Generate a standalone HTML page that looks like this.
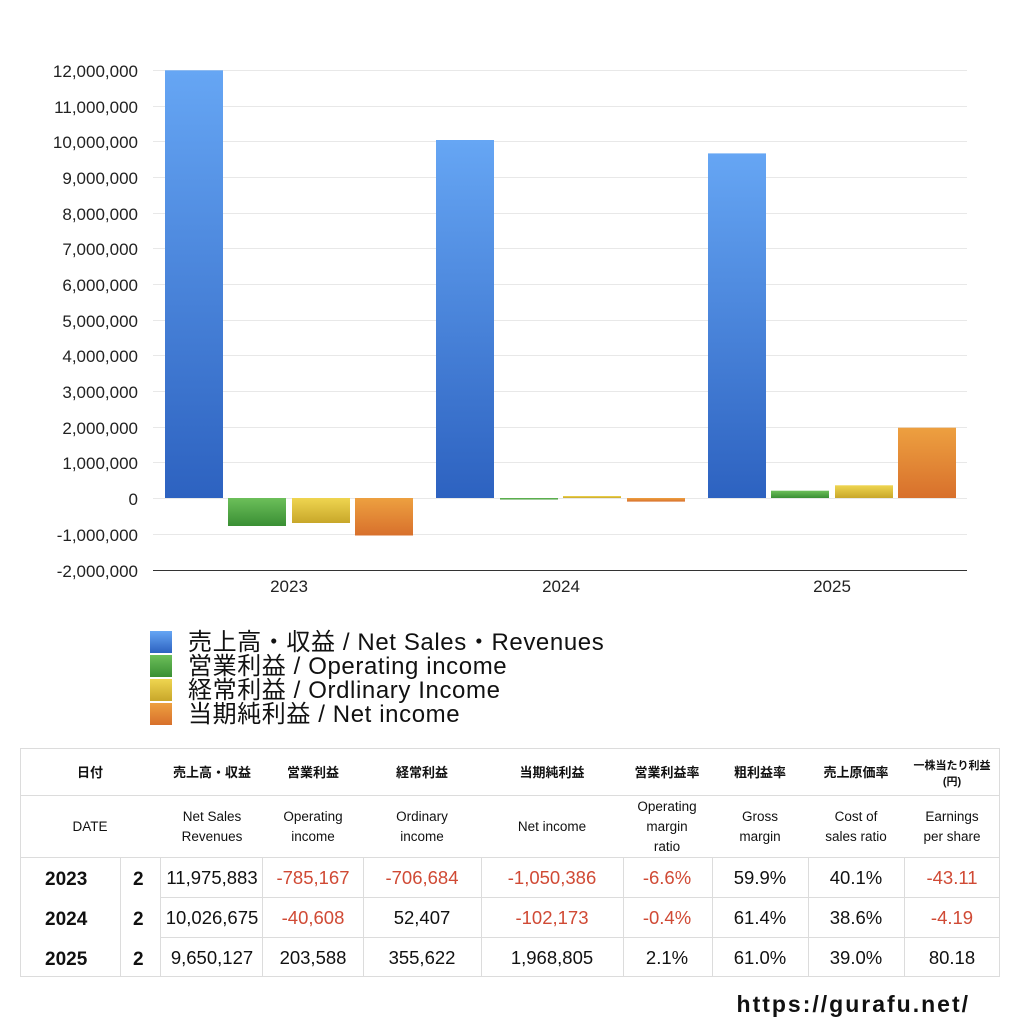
<!DOCTYPE html>
<html><head><meta charset="utf-8"><style>
body{margin:0;background:#fff;width:1024px;height:1024px;overflow:hidden;font-family:"Liberation Sans","Noto Sans CJK JP",sans-serif;}
svg text{font-family:"Liberation Sans","Noto Sans CJK JP",sans-serif;}
</style></head><body>
<svg width="1024" height="1024" viewBox="0 0 1024 1024" xmlns="http://www.w3.org/2000/svg">
<defs>
<linearGradient id="gb" x1="0" y1="0" x2="0" y2="1"><stop offset="0" stop-color="#66a6f4"/><stop offset="1" stop-color="#2d62c0"/></linearGradient>
<linearGradient id="gg" x1="0" y1="0" x2="0" y2="1"><stop offset="0" stop-color="#6cbf5a"/><stop offset="1" stop-color="#3a8f34"/></linearGradient>
<linearGradient id="gy" x1="0" y1="0" x2="0" y2="1"><stop offset="0" stop-color="#efd550"/><stop offset="1" stop-color="#c8a72a"/></linearGradient>
<linearGradient id="go" x1="0" y1="0" x2="0" y2="1"><stop offset="0" stop-color="#eda040"/><stop offset="1" stop-color="#d8702c"/></linearGradient>
</defs>
<g stroke="#e8e8e8" stroke-width="1">
<line x1="153" x2="967" y1="70.5" y2="70.5"/><line x1="153" x2="967" y1="106.5" y2="106.5"/><line x1="153" x2="967" y1="141.5" y2="141.5"/><line x1="153" x2="967" y1="177.5" y2="177.5"/><line x1="153" x2="967" y1="213.5" y2="213.5"/><line x1="153" x2="967" y1="248.5" y2="248.5"/><line x1="153" x2="967" y1="284.5" y2="284.5"/><line x1="153" x2="967" y1="320.5" y2="320.5"/><line x1="153" x2="967" y1="355.5" y2="355.5"/><line x1="153" x2="967" y1="391.5" y2="391.5"/><line x1="153" x2="967" y1="427.5" y2="427.5"/><line x1="153" x2="967" y1="462.5" y2="462.5"/><line x1="153" x2="967" y1="498.5" y2="498.5"/><line x1="153" x2="967" y1="534.5" y2="534.5"/>
</g>
<line x1="153" x2="967" y1="570.5" y2="570.5" stroke="#333"/>
<g font-size="17" fill="#222" text-anchor="end">
<text x="138" y="77">12,000,000</text><text x="138" y="113">11,000,000</text><text x="138" y="148">10,000,000</text><text x="138" y="184">9,000,000</text><text x="138" y="220">8,000,000</text><text x="138" y="255">7,000,000</text><text x="138" y="291">6,000,000</text><text x="138" y="327">5,000,000</text><text x="138" y="362">4,000,000</text><text x="138" y="398">3,000,000</text><text x="138" y="434">2,000,000</text><text x="138" y="469">1,000,000</text><text x="138" y="505">0</text><text x="138" y="541">-1,000,000</text><text x="138" y="577">-2,000,000</text>
</g>
<g font-size="17" fill="#222" text-anchor="middle">
<text x="289" y="592">2023</text><text x="561" y="592">2024</text><text x="832" y="592">2025</text>
</g>
<rect x="165" y="70.3" width="58" height="427.7" fill="url(#gb)"/>
<rect x="228" y="498" width="58" height="28" fill="url(#gg)"/>
<rect x="292" y="498" width="58" height="25" fill="url(#gy)"/>
<rect x="355" y="498" width="58" height="37.5" fill="url(#go)"/>
<rect x="436" y="140" width="58" height="358" fill="url(#gb)"/>
<rect x="500" y="498" width="58" height="1.5" fill="url(#gg)"/>
<rect x="563" y="496" width="58" height="2" fill="url(#gy)"/>
<rect x="627" y="498" width="58" height="3.6" fill="url(#go)"/>
<rect x="708" y="153.4" width="58" height="344.6" fill="url(#gb)"/>
<rect x="771" y="490.7" width="58" height="7.3" fill="url(#gg)"/>
<rect x="835" y="485.3" width="58" height="12.7" fill="url(#gy)"/>
<rect x="898" y="427.7" width="58" height="70.3" fill="url(#go)"/>
<rect x="150" y="631" width="22" height="22" fill="url(#gb)"/>
<rect x="150" y="655" width="22" height="22" fill="url(#gg)"/>
<rect x="150" y="679" width="22" height="22" fill="url(#gy)"/>
<rect x="150" y="703" width="22" height="22" fill="url(#go)"/>
<g font-size="24" fill="#111" letter-spacing="0.6">
<text x="188" y="650">売上高・収益 / Net Sales・Revenues</text>
<text x="188" y="674">営業利益 / Operating income</text>
<text x="188" y="698">経常利益 / Ordlinary Income</text>
<text x="188" y="722">当期純利益 / Net income</text>
</g>
<g stroke="#dcdcdc" stroke-width="1" fill="none">
<rect x="20.5" y="748.5" width="979" height="228"/>
<line x1="20" x2="1000" y1="795.5" y2="795.5"/>
<line x1="20" x2="1000" y1="857.5" y2="857.5"/>
<line x1="160" x2="1000" y1="897.5" y2="897.5"/>
<line x1="160" x2="1000" y1="937.5" y2="937.5"/>
<line x1="120.5" x2="120.5" y1="857" y2="977"/><line x1="160.5" x2="160.5" y1="857" y2="977"/><line x1="262.5" x2="262.5" y1="857" y2="977"/><line x1="363.5" x2="363.5" y1="857" y2="977"/><line x1="481.5" x2="481.5" y1="857" y2="977"/><line x1="623.5" x2="623.5" y1="857" y2="977"/><line x1="712.5" x2="712.5" y1="857" y2="977"/><line x1="808.5" x2="808.5" y1="857" y2="977"/><line x1="904.5" x2="904.5" y1="857" y2="977"/>
</g>
<g font-size="13" font-weight="bold" fill="#111" text-anchor="middle">
<text x="90" y="777">日付</text><text x="212" y="777">売上高・収益</text><text x="313" y="777">営業利益</text><text x="422" y="777">経常利益</text><text x="552" y="777">当期純利益</text><text x="667" y="777">営業利益率</text><text x="760" y="777">粗利益率</text><text x="856" y="777">売上原価率</text>
<text x="952" y="769" font-size="11">一株当たり利益</text><text x="952" y="785" font-size="11">(円)</text>
</g>
<g font-size="13.5" fill="#111" text-anchor="middle">
<text x="90" y="831">DATE</text>
<text x="212" y="821">Net Sales</text><text x="212" y="841">Revenues</text>
<text x="313" y="821">Operating</text><text x="313" y="841">income</text>
<text x="422" y="821">Ordinary</text><text x="422" y="841">income</text>
<text x="552" y="831">Net income</text>
<text x="667" y="811">Operating</text><text x="667" y="831">margin</text><text x="667" y="851">ratio</text>
<text x="760" y="821">Gross</text><text x="760" y="841">margin</text>
<text x="856" y="821">Cost of</text><text x="856" y="841">sales ratio</text>
<text x="952" y="821">Earnings</text><text x="952" y="841">per share</text>
</g>
<g font-size="19" font-weight="bold" fill="#111">
<text x="45" y="885">2023</text><text x="45" y="925">2024</text><text x="45" y="965">2025</text>
<text x="133" y="885">2</text><text x="133" y="925">2</text><text x="133" y="965">2</text>
</g>
<g font-size="18.5" text-anchor="middle" fill="#111">
<text x="212" y="884">11,975,883</text><text x="212" y="924">10,026,675</text><text x="212" y="964">9,650,127</text>
<text x="313" y="884" fill="#d04a35">-785,167</text><text x="313" y="924" fill="#d04a35">-40,608</text><text x="313" y="964">203,588</text>
<text x="422" y="884" fill="#d04a35">-706,684</text><text x="422" y="924">52,407</text><text x="422" y="964">355,622</text>
<text x="552" y="884" fill="#d04a35">-1,050,386</text><text x="552" y="924" fill="#d04a35">-102,173</text><text x="552" y="964">1,968,805</text>
<text x="667" y="884" fill="#d04a35">-6.6%</text><text x="667" y="924" fill="#d04a35">-0.4%</text><text x="667" y="964">2.1%</text>
<text x="760" y="884">59.9%</text><text x="760" y="924">61.4%</text><text x="760" y="964">61.0%</text>
<text x="856" y="884">40.1%</text><text x="856" y="924">38.6%</text><text x="856" y="964">39.0%</text>
<text x="952" y="884" fill="#d04a35">-43.11</text><text x="952" y="924" fill="#d04a35">-4.19</text><text x="952" y="964">80.18</text>
</g>
<text x="970" y="1012" font-size="23" font-weight="bold" fill="#111" text-anchor="end" letter-spacing="2">https://gurafu.net/</text>
</svg>
</body></html>
